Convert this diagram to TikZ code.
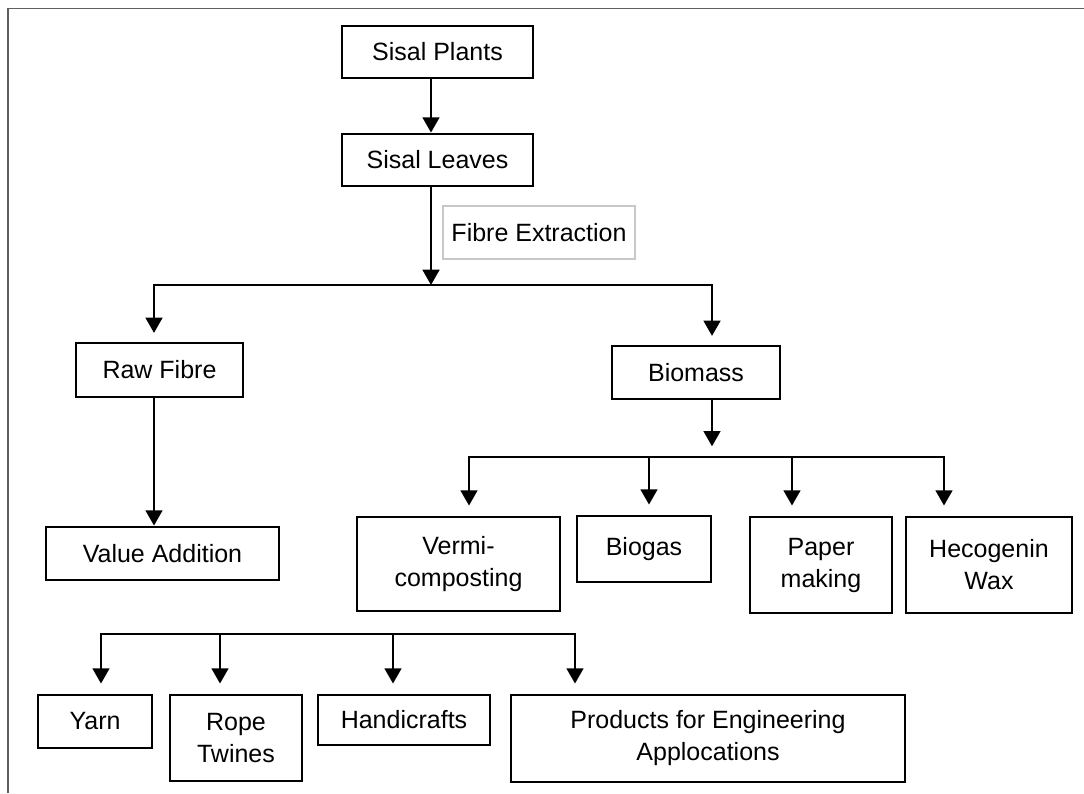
\documentclass[tikz,border=0pt]{standalone}
\usepackage{fontspec}
\setmainfont{Liberation Sans}
\usetikzlibrary{arrows.meta}
\definecolor{framegray}{RGB}{95,95,95}
\definecolor{fxgray}{RGB}{200,200,200}
\begin{document}
\begin{tikzpicture}[x=0.75pt,y=-0.75pt,
  font=\fontsize{18.75}{24}\selectfont,
  box/.style={draw=black, line width=2.1pt, inner sep=0pt, align=center, rectangle},
  fxbox/.style={draw=fxgray, line width=0.8pt, inner sep=0pt, align=center, rectangle},
  ln/.style={line width=2.1pt, line cap=rect},
  arr/.style={line width=2.1pt, -{Triangle[width=12.5pt,length=11.5pt]}},
  frame/.style={draw=framegray, line width=1.3pt}]
\useasboundingbox (0,0) rectangle (1084,793);
\draw[frame] (8,793) -- (8,8.5) -- (1084,8.5);

% nodes
\node[box, minimum width=143.25pt, minimum height=39pt] (plants) at (437.5,52) {Sisal Plants};
\node[box, minimum width=143.25pt, minimum height=39pt] (leaves) at (437.5,160) {Sisal Leaves};
\node[fxbox, minimum width=144pt, minimum height=39.75pt] (fx) at (539,232.5) {Fibre Extraction};
\node[box, minimum width=125.25pt, minimum height=40.5pt] (raw) at (159.5,370) {Raw Fibre};
\node[box, minimum width=126pt, minimum height=39.75pt] (bio) at (696,372.5) {Biomass};
\node[box, minimum width=174.75pt, minimum height=39.75pt] (val) at (162.5,553.5) {Value Addition};
\node[box, minimum width=152.25pt, minimum height=70.5pt] (verm) at (458.5,564) {Vermi-\\composting};
\node[box, minimum width=100.5pt, minimum height=49.5pt] (biog) at (644,549) {Biogas};
\node[box, minimum width=106.5pt, minimum height=72pt] (pap) at (821,565) {Paper\\making};
\node[box, minimum width=124.5pt, minimum height=72pt] (hec) at (989,565) {Hecogenin\\Wax};
\node[box, minimum width=85.5pt, minimum height=39.75pt] (yarn) at (95,721.5) {Yarn};
\node[box, minimum width=99pt, minimum height=64.5pt] (rope) at (236,738) {Rope\\Twines};
\node[box, minimum width=129pt, minimum height=37.5pt] (hand) at (404,720) {Handicrafts};
\node[box, minimum width=295.5pt, minimum height=65.25pt] (prod) at (708,738.5) {Products for Engineering\\Applocations};

% top chain
\coordinate (xa) at (431,0);
\coordinate (j1) at (431,285);
\coordinate (jl) at (154,285);
\coordinate (jr) at (712,285);
\draw[arr] (plants.south -| xa) -- (leaves.north -| xa);
\draw[arr] (leaves.south -| xa) -- (j1);
\draw[ln] (jl) -- (jr);
\draw[arr, shorten >=6.5pt] (jl) -- (raw.north -| jl);
\draw[arr, shorten >=6.5pt] (jr) -- (bio.north -| jr);
\draw[arr] (raw.south -| jl) -- (val.north -| jl);

% biomass branches
\coordinate (jb) at (712,457);
\coordinate (b1) at (469,457);
\coordinate (b2) at (649,457);
\coordinate (b3) at (792,457);
\coordinate (b4) at (944,457);
\draw[arr, shorten >=8pt] (bio.south -| jb) -- (jb);
\draw[ln] (b1) -- (b4);
\draw[arr, shorten >=7.5pt] (b1) -- (verm.north -| b1);
\draw[arr, shorten >=7.5pt] (b2) -- (biog.north -| b2);
\draw[arr, shorten >=7.5pt] (b3) -- (pap.north -| b3);
\draw[arr, shorten >=7.5pt] (b4) -- (hec.north -| b4);

% bottom row
\coordinate (c1) at (101,634);
\coordinate (c2) at (220,634);
\coordinate (c3) at (393,634);
\coordinate (c4) at (575,634);
\draw[ln] (c1) -- (c4);
\draw[arr, shorten >=7.5pt] (c1) -- (yarn.north -| c1);
\draw[arr, shorten >=7.5pt] (c2) -- (rope.north -| c2);
\draw[arr, shorten >=7.5pt] (c3) -- (hand.north -| c3);
\draw[arr, shorten >=7.5pt] (c4) -- (prod.north -| c4);
\end{tikzpicture}
\end{document}
